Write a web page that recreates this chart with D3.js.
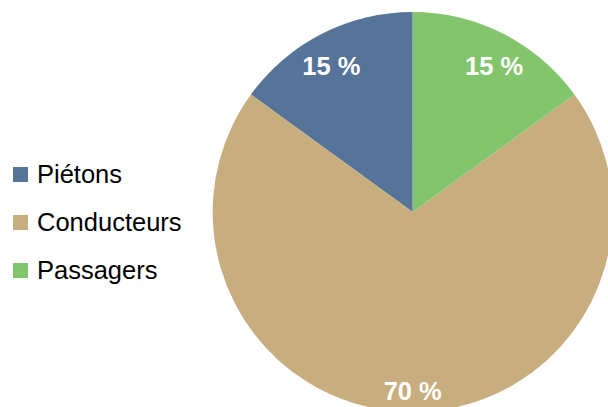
<!DOCTYPE html>
<html>
<head>
<meta charset="utf-8">
<script src="https://cdn.jsdelivr.net/npm/d3@7"></script>
<style>
  body { margin: 0; background: #fff; }
  svg { display: block; }
</style>
</head>
<body>
<div class="chart"></div>
<script>
let width = 608
let height = 407

// data
const categories = ["Piétons", "Conducteurs", "Passagers"]
const shares = [15, 70, 15]
const colors = ["#567398", "#c8ad7f", "#83c56d"]

const cx = 412.7
const cy = 212
const radius = 200

const svg = d3.select(".chart")
    .append("svg")
    .attr("width", width)
    .attr("height", height)

const color = d3.scaleOrdinal()
    .domain(categories)
    .range(colors)

const data = categories.map((c, i) => ({name: c, value: shares[i]}))

// counter-clockwise from 12 o'clock
const pie = d3.pie()
    .value(d => d.value)
    .sort(null)
    .startAngle(0)
    .endAngle(-2 * Math.PI)

const arc = d3.arc()
    .innerRadius(0)
    .outerRadius(radius)

const g = svg.append("g")
    .attr("transform", `translate(${cx}, ${cy})`)

const arcs = pie(data)

g.selectAll("path")
    .data(arcs)
    .enter()
    .append("path")
    .attr("d", arc)
    .attr("fill", d => color(d.data.name))

// labels: push outward until the outer corner sits just inside the rim
const fs = 25.5
const labels = g.selectAll(".label")
    .data(arcs)
    .enter()
    .append("text")
    .attr("class", "label")
    .attr("text-anchor", "middle")
    .attr("font-family", "Liberation Sans, Arial, sans-serif")
    .attr("font-weight", "bold")
    .attr("font-size", fs)
    .attr("fill", "#fff")
    .text(d => d.data.value + " %")

labels.each(function(d) {
    const w = this.getComputedTextLength()
    const h = fs * 0.72
    const a = (d.startAngle + d.endAngle) / 2
    const dx = Math.sin(a)
    const dy = -Math.cos(a)
    const R = radius - 10
    const b = Math.abs(dx) * w / 2 + Math.abs(dy) * h / 2
    const c = (w * w + h * h) / 4 - R * R
    const t = -b + Math.sqrt(b * b - c)
    // small sideways nudge, like the original renderer
    const nx = Math.sign(dx) * Math.abs(dx) * 12
    d3.select(this)
        .attr("x", t * dx + nx)
        .attr("y", t * dy + h / 2 + Math.abs(dx) * 6)
})

// legend
const legend = svg.append("g")
    .attr("transform", "translate(13, 167)")

const rows = legend.selectAll("g")
    .data(categories)
    .enter()
    .append("g")
    .attr("transform", (d, i) => `translate(0, ${i * 48})`)

rows.append("rect")
    .attr("width", 15)
    .attr("height", 15)
    .attr("fill", d => color(d))

rows.append("text")
    .attr("x", 24)
    .attr("y", 16)
    .attr("font-family", "Liberation Sans, Arial, sans-serif")
    .attr("font-size", 25.5)
    .attr("fill", "#000")
    .text(d => d)
</script>
</body>
</html>
